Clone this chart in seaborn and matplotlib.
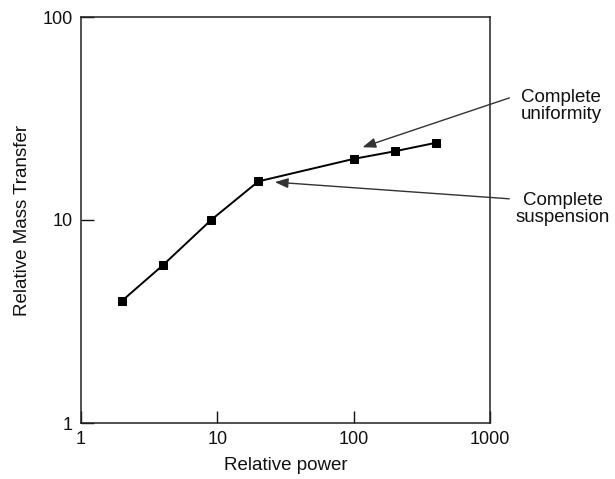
import matplotlib
matplotlib.use("Agg")
import matplotlib.pyplot as plt
import seaborn as sns
import pandas as pd

relative_power = [2, 4, 9, 20, 100, 200, 400]
relative_mass_transfer = [4.0, 6.0, 10.0, 15.5, 20.0, 21.8, 24.0]
x_ticks = [1, 10, 100, 1000]
y_ticks = [1, 10, 100]
x_tick_labels = ["1", "10", "100", "1000"]
y_tick_labels = ["1", "10", "100"]

df = pd.DataFrame({"power": relative_power, "mt": relative_mass_transfer})

sns.set_style("ticks")
plt.rcParams["font.family"] = ["Liberation Sans", "DejaVu Sans"]
plt.rcParams["text.color"] = "#111111"
plt.rcParams["axes.labelcolor"] = "#111111"

fig = plt.figure(figsize=(6.15, 4.79), dpi=100)
ax = fig.add_axes([81/615, 1-423/479, (490-81)/615, (423-17)/479])

sns.lineplot(data=df, x="power", y="mt", ax=ax, color="black", linewidth=1.4,
             marker="s", markersize=6, markeredgecolor="black", markerfacecolor="black")

ax.set_xscale("log")
ax.set_yscale("log")
ax.set_xlim(1, 1000)
ax.set_ylim(1, 100)
ax.set_xticks(x_ticks)
ax.set_xticklabels(x_tick_labels)
ax.set_yticks(y_ticks)
ax.set_yticklabels(y_tick_labels)
ax.minorticks_off()
ax.tick_params(axis="both", which="major", direction="in", length=9, width=1.0,
               labelsize=13, colors="#111111", pad=6)
for s in ax.spines.values():
    s.set_linewidth(1.1)
    s.set_color("#222222")

ax.set_xlabel("Relative power", fontsize=13.5, labelpad=6)
ax.set_ylabel("Relative Mass Transfer", fontsize=13.5, labelpad=8)

arrow_kw = dict(arrowstyle="-|>,head_length=0.8,head_width=0.3", color="#333333", lw=1.0)
ax.annotate("", xy=(111, 22.6), xycoords="data",
            xytext=(512, 479-97), textcoords="figure pixels", arrowprops=arrow_kw)
ax.annotate("", xy=(25.2, 15.4), xycoords="data",
            xytext=(512, 479-199), textcoords="figure pixels", arrowprops=arrow_kw)

fig.text(561/615, 1-106/479, "Complete\nuniformity", ha="center", va="center",
         multialignment="center", fontsize=13.5, linespacing=1.0)
fig.text(563/615, 1-209/479, "Complete\nsuspension", ha="center", va="center",
         multialignment="center", fontsize=13.5, linespacing=1.0)

fig.savefig("out.png", dpi=100)
